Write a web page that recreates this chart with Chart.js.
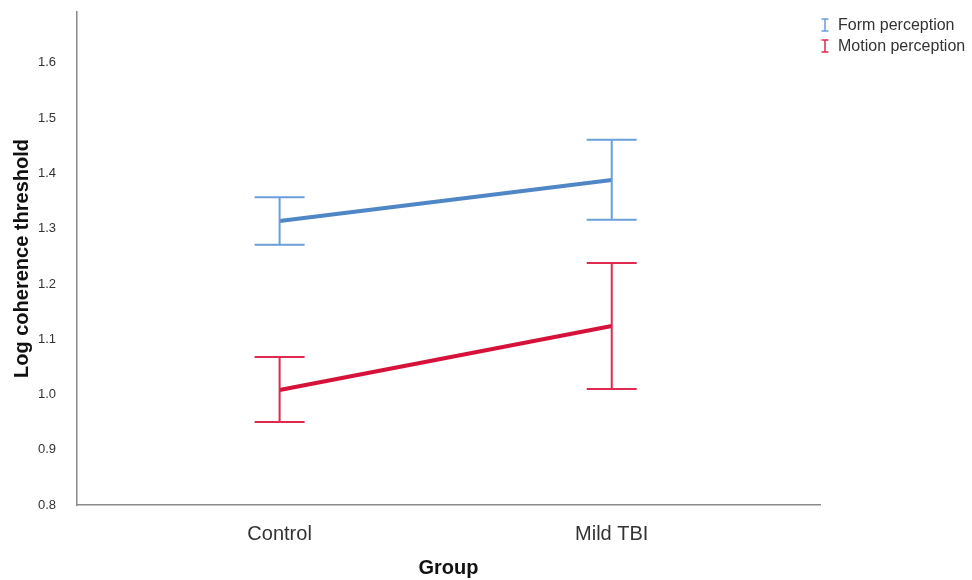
<!DOCTYPE html>
<html>
<head>
<meta charset="utf-8">
<script src="https://cdn.jsdelivr.net/npm/chart.js@4.4.0/dist/chart.umd.min.js"></script>
<style>
  html, body { margin: 0; padding: 0; background: #fff; }
  #wrap { width: 972px; height: 580px; }
</style>
</head>
<body>
<div id="wrap"><canvas id="chart" width="972" height="580"></canvas></div>
<script>
// --- Datos ---
const groups = ['Control', 'Mild TBI'];
const yTicks = [0.8, 0.9, 1.0, 1.1, 1.2, 1.3, 1.4, 1.5, 1.6];

const formMean  = [1.314, 1.388];
const formLow   = [1.271, 1.316];
const formHigh  = [1.357, 1.461];

const motionMean = [1.008, 1.124];
const motionLow  = [0.950, 1.010];
const motionHigh = [1.068, 1.238];

const series = [
    { label: 'Form perception',   mean: formMean,   low: formLow,   high: formHigh,   line: '#4f86c6', bar: '#6a9fdc' },
    { label: 'Motion perception', mean: motionMean, low: motionLow, high: motionHigh, line: '#d6123a', bar: '#de2a4e' }
];

// Barras de error con tapas
const errorBars = {
    id: 'errorBars',
    afterDatasetsDraw(chart) {
        const { ctx, scales: { x, y } } = chart;
        const cap = 25;
        ctx.save();
        chart.data.datasets.forEach(ds => {
            ctx.strokeStyle = ds.barColor;
            ctx.lineWidth = 2;
            ds.low.forEach((lo, i) => {
                const px = x.getPixelForValue(i);
                const yl = y.getPixelForValue(lo);
                const yh = y.getPixelForValue(ds.high[i]);
                ctx.beginPath();
                ctx.moveTo(px, yl); ctx.lineTo(px, yh);
                ctx.moveTo(px - cap, yl); ctx.lineTo(px + cap, yl);
                ctx.moveTo(px - cap, yh); ctx.lineTo(px + cap, yh);
                ctx.stroke();
            });
        });
        ctx.restore();
    }
};

// Leyenda con el símbolo "I" de barra de error
const errLegend = {
    id: 'errLegend',
    afterDraw(chart) {
        const { ctx } = chart;
        ctx.save();
        ctx.font = '16px "Liberation Sans", Arial, sans-serif';
        ctx.textBaseline = 'middle';
        chart.data.datasets.forEach((ds, i) => {
            const cy = 25 + i * 21;
            const cx = 825;
            ctx.strokeStyle = ds.barColor;
            ctx.lineWidth = 1.5;
            ctx.beginPath();
            ctx.moveTo(cx, cy - 6); ctx.lineTo(cx, cy + 6);
            ctx.moveTo(cx - 3.5, cy - 6); ctx.lineTo(cx + 3.5, cy - 6);
            ctx.moveTo(cx - 3.5, cy + 6); ctx.lineTo(cx + 3.5, cy + 6);
            ctx.stroke();
            ctx.fillStyle = '#333';
            ctx.fillText(ds.label, 838, cy + 1);
        });
        ctx.restore();
    }
};

new Chart(document.getElementById('chart'), {
    type: 'line',
    data: {
        datasets: series.map(s => ({
            label: s.label,
            data: s.mean.map((v, i) => ({ x: i, y: v })),
            borderColor: s.line,
            backgroundColor: s.line,
            borderWidth: 4,
            pointRadius: 0,
            fill: false,
            low: s.low,
            high: s.high,
            barColor: s.bar
        }))
    },
    options: {
        responsive: false,
        animation: false,
        layout: { padding: { top: 12, right: 152, left: 0, bottom: 0 } },
        plugins: { legend: { display: false }, tooltip: { enabled: false } },
        scales: {
            x: {
                type: 'linear',
                min: -0.61,
                max: 1.627,
                afterBuildTicks: (scale) => { scale.ticks = groups.map((_, i) => ({ value: i })); },
                afterFit: (scale) => { scale.height = 75; scale.paddingLeft = 0; scale.paddingRight = 0; },
                grid: { display: false },
                border: { color: '#8a8a8a', width: 1.5 },
                ticks: {
                    callback: (val) => groups[val],
                    color: '#333',
                    padding: 9,
                    font: { family: '"Liberation Sans", Arial, sans-serif', size: 20 }
                },
                title: {
                    display: true,
                    text: 'Group',
                    color: '#111',
                    padding: { top: 0, bottom: 0 },
                    font: { family: '"Liberation Sans", Arial, sans-serif', size: 20, weight: 'bold' }
                }
            },
            y: {
                min: 0.8,
                max: 1.692,
                afterBuildTicks: (scale) => { scale.ticks = yTicks.map(v => ({ value: v })); },
                afterFit: (scale) => { scale.width = 77; scale.paddingTop = 0; scale.paddingBottom = 0; },
                grid: { display: false },
                border: { color: '#8a8a8a', width: 1.5 },
                ticks: {
                    callback: (val) => val.toFixed(1),
                    color: '#333',
                    padding: 13,
                    font: { family: '"Liberation Sans", Arial, sans-serif', size: 13 }
                },
                title: {
                    display: true,
                    text: 'Log coherence threshold',
                    color: '#111',
                    padding: { top: 10, bottom: 0 },
                    font: { family: '"Liberation Sans", Arial, sans-serif', size: 20, weight: 'bold' }
                }
            }
        }
    },
    plugins: [errorBars, errLegend]
});
</script>
</body>
</html>
